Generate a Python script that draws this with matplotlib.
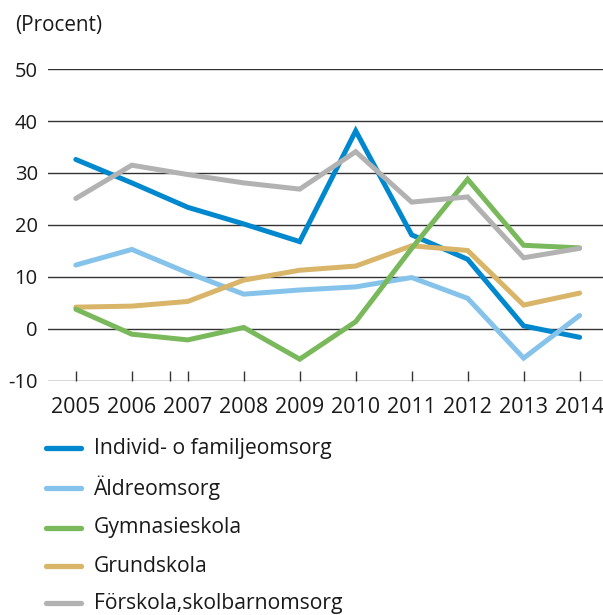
import matplotlib
matplotlib.use("Agg")
from matplotlib import pyplot as plt
from matplotlib.lines import Line2D

years = [2005, 2006, 2007, 2008, 2009, 2010, 2011, 2012, 2013, 2014]

individ = [32.6, 28.1, 23.4, 20.2, 16.8, 38.1, 18.1, 13.4, 0.6, -1.6]
aldre = [12.3, 15.3, 10.8, 6.7, 7.5, 8.1, 9.9, 5.9, -5.6, 2.6]
gymnasie = [3.8, -1.0, -2.1, 0.3, -5.8, 1.4, 15.5, 28.8, 16.1, 15.6]
grund = [4.2, 4.4, 5.3, 9.4, 11.3, 12.1, 16.0, 15.1, 4.6, 6.9]
forskola = [25.1, 31.5, 29.7, 28.1, 26.9, 34.1, 24.4, 25.4, 13.7, 15.5]

labels = ["Individ- o familjeomsorg", "Äldreomsorg", "Gymnasieskola",
          "Grundskola", "Förskola,skolbarnomsorg"]
colors = ["#0088ce", "#86c3eb", "#79b95b", "#d8b568", "#b2b2b2"]
yticks = [-10, 0, 10, 20, 30, 40, 50]

plt.rcParams['font.family'] = ['Open Sans', 'DejaVu Sans']

fig = plt.figure(figsize=(6.03, 6.15), dpi=100)
ax = fig.add_axes([0.0788, 0.3805, 0.9212, 0.5073])

# drawing order as in the original (grey on top)
series = [individ, aldre, grund, gymnasie, forskola]
series_colors = [colors[0], colors[1], colors[3], colors[2], colors[4]]
for vals, c in zip(series, series_colors):
    ax.plot(years, vals, color=c, lw=3.6, solid_capstyle='round',
            solid_joinstyle='miter', clip_on=False, zorder=3)

for y in yticks:
    ax.axhline(y, color="#333333", lw=1.0, zorder=1)

ax.set_xlim(2004.494, 2014.418)
ax.set_ylim(-10, 50)
ax.set_yticks(yticks)
ax.set_yticklabels([str(v) for v in yticks], fontsize=14.5, color="#1a1a1a")
ax.set_xticks(years)
ax.set_xticklabels([str(v) for v in years], fontsize=15.5, color="#1a1a1a")
# stray tick between 2006 and 2007 in the original
ax.set_xticks([2006.683], minor=True)
ax.tick_params(axis='x', which='both', direction='in', length=7, width=1,
               color="#333333", pad=11.5)
ax.tick_params(axis='y', length=0, pad=7)
for s in ax.spines.values():
    s.set_visible(False)

fig.text(15 / 603, 1 - 26 / 615, "(Procent)", fontsize=14.9, color="#1a1a1a",
         va='center', ha='left')

# legend drawn by hand to follow the original layout
leg_y = [448.3, 487.5, 527.5, 566, 603]
for lab, c, y in zip(labels, colors, leg_y):
    yf = 1 - y / 615
    fig.add_artist(Line2D([46 / 603, 81 / 603], [yf, yf], color=c, lw=3.8,
                          solid_capstyle='round'))
    fig.text(94 / 603, yf, lab, fontsize=15.2, color="#1a1a1a",
             va='center', ha='left')

fig.savefig("out.png", dpi=100)
